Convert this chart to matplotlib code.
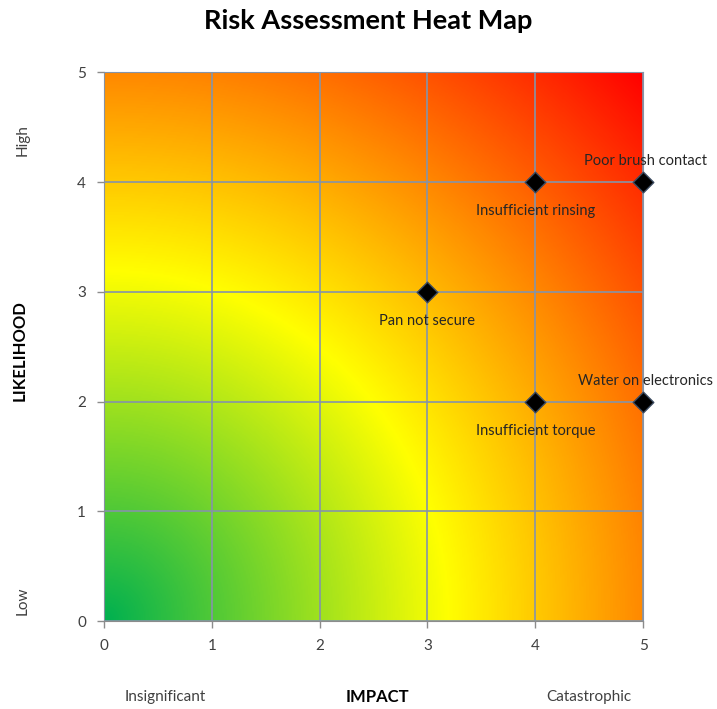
import matplotlib
matplotlib.use("Agg")
import matplotlib.pyplot as plt
import numpy as np
from matplotlib.colors import LinearSegmentedColormap

plt.rcParams['font.family'] = ['Lato', 'DejaVu Sans']

# data
impact = [5, 4, 3, 5, 4]
likelihood = [4, 4, 3, 2, 2]
risks = ["Poor brush contact", "Insufficient rinsing", "Pan not secure",
         "Water on electronics", "Insufficient torque"]
ticks = [0, 1, 2, 3, 4, 5]

# label offsets in points (dx, dy)
offsets = {5: (2, 15)}
default_offset = (0, -21)

grid_col = "#8594a8"
axis_col = "#8c8c8c"
text_col = "#404040"

fig = plt.figure(figsize=(7.17, 7.09), dpi=100)
ax = fig.add_axes([0.145, 0.124, 0.752, 0.774])

# background: radial gradient from the low/low corner
cmap = LinearSegmentedColormap.from_list(
    "risk", [(0.0, "#00b050"), (0.45, "#ffff00"), (0.7, "#ff8c00"), (1.0, "#ff0000")])
gx, gy = np.meshgrid(np.linspace(0, 5, 400), np.linspace(0, 5, 400))
r = np.hypot(gx, gy) / np.hypot(5, 5)
ax.imshow(r, cmap=cmap, origin="lower", extent=(0, 5, 0, 5), aspect="auto",
          interpolation="bilinear", zorder=0)

ax.set_xlim(0, 5)
ax.set_ylim(0, 5)
ax.set_xticks(ticks)
ax.set_yticks(ticks)
ax.grid(True, color=grid_col, linewidth=1.2, zorder=1)
ax.set_axisbelow(False)
for side in ["top", "right"]:
    ax.spines[side].set_color(grid_col)
for side in ["left", "bottom"]:
    ax.spines[side].set_color(axis_col)
ax.tick_params(colors=axis_col, labelcolor=text_col, labelsize=11, length=5,
               width=1, pad=8)

ax.scatter(impact, likelihood, marker="D", s=110, color="black",
           edgecolors="#3a4a60", linewidths=1, zorder=3, clip_on=False)
for x, y, name in zip(impact, likelihood, risks):
    dx, dy = offsets.get(x, default_offset)
    ax.annotate(name, (x, y), xytext=(dx, dy), textcoords="offset points",
                ha="center", va="center", fontsize=10.5, color="#262626",
                annotation_clip=False, zorder=4)

fig.text(0.513, 0.97, "Risk Assessment Heat Map", ha="center", va="center",
         fontsize=19.5, fontweight="bold", color="black")
fig.text(0.526, 0.017, "IMPACT", ha="center", va="center", fontsize=12,
         fontweight="bold", color="black")
fig.text(0.23, 0.017, "Insignificant", ha="center", va="center", fontsize=11,
         color=text_col)
fig.text(0.821, 0.017, "Catastrophic", ha="center", va="center", fontsize=11,
         color=text_col)
fig.text(0.028, 0.506, "LIKELIHOOD", ha="center", va="center", rotation=90,
         fontsize=12, fontweight="bold", color="black")
fig.text(0.031, 0.802, "High", ha="center", va="center", rotation=90,
         fontsize=11, color=text_col)
fig.text(0.031, 0.153, "Low", ha="center", va="center", rotation=90,
         fontsize=11, color=text_col)

fig.savefig("out.png", dpi=100)
